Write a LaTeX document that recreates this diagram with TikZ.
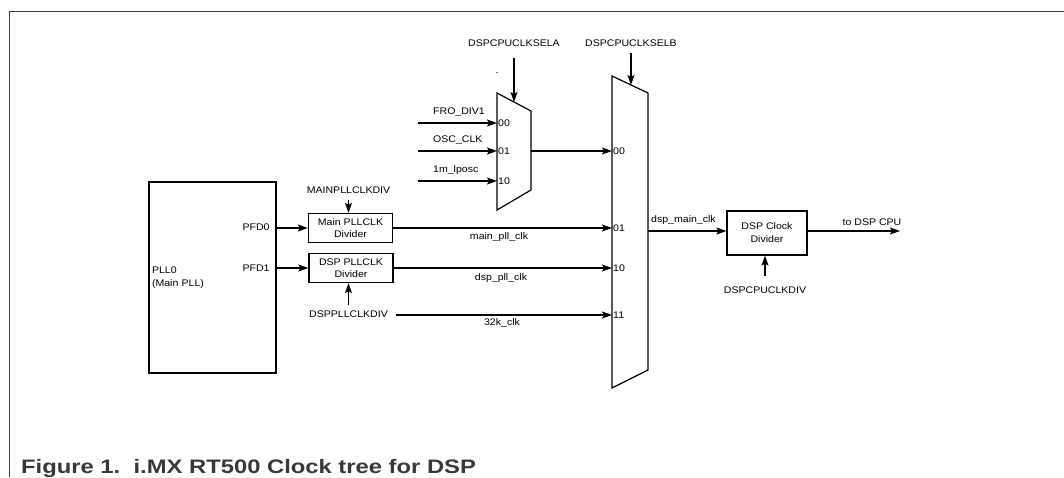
\documentclass[tikz,border=0pt]{standalone}
\usepackage{fontspec}
\setmainfont{Liberation Sans}
\newfontfamily\diagfont[FakeStretch=1.1]{Liberation Sans}
\newfontfamily\capfont[FakeStretch=1.22]{Liberation Sans}
\usetikzlibrary{arrows.meta, positioning}

\begin{document}
\begin{tikzpicture}[
    x=1pt, y=-1pt,
    font=\diagfont\fontsize{9.6}{12.5}\selectfont,
    block/.style={rectangle, draw, line width=1.3pt, align=center, inner sep=1pt},
    arrow/.style={line width=1.2pt, -{Stealth[length=10pt, width=7pt, inset=2pt]}},
    wire/.style={line width=1.2pt, line join=miter},
    lbl/.style={inner sep=1pt, anchor=base},
    port/.style={inner sep=1pt, anchor=west}
]
\useasboundingbox (0,0) rectangle (1064,477);

% frame and caption
\draw[black!75, line width=1pt] (9.5,477) -- (9.5,11.5) -- (1064,11.5);
\node[anchor=base west, inner sep=0pt, text=black!78, font=\capfont\bfseries\fontsize{19.5}{22}\selectfont] (caption) at (21,473) {Figure 1.\ \ i.MX RT500 Clock tree for DSP};

% PLL and the two dividers
\node[block, minimum width=127pt, minimum height=191pt, text width=121pt, align=left, font=\diagfont\fontsize{9.6}{13}\selectfont] (pll) at (212.5,277.5) {PLL0\\(Main PLL)};
\node[lbl] (pfd0) at (256,230) {PFD0};
\node[lbl] (pfd1) at (256,271) {PFD1};
\node[block, minimum width=84pt, minimum height=29pt, font=\diagfont\fontsize{9.6}{12}\selectfont] (mdiv) at (350.5,228) {Main PLLCLK\\Divider};
\node[block, minimum width=84pt, minimum height=29pt, font=\diagfont\fontsize{9.6}{12}\selectfont] (ddiv) at (351,268) {DSP PLLCLK\\Divider};
\node[lbl] (mainlbl) at (348.5,193) {MAINPLLCLKDIV};
\node[lbl] (dsplbl) at (348.5,317) {DSPPLLCLKDIV};

\draw[arrow] (pll.east |- mdiv) -- (mdiv);
\draw[arrow] (pll.east |- ddiv) -- (ddiv);
\draw[arrow, shorten <=6pt] (mainlbl.south) -- (mainlbl.south |- mdiv.north);
\draw[arrow, shorten <=4pt] (dsplbl.north) -- (dsplbl.north |- ddiv.south);

% mux A
\coordinate (ma1) at (497,93);
\coordinate (ma2) at (531,111);
\coordinate (ma3) at (531,190);
\coordinate (ma4) at (497,210);
\draw[wire] (ma1) -- (ma2) -- (ma3) -- (ma4) -- cycle;
\coordinate (sela) at (514,102);
\node[lbl] (selalbl) at (514,46) {DSPCPUCLKSELA};
\node[lbl] (dot) at (497,73) {.};
\draw[arrow, shorten <=11pt] (selalbl.south) -- (sela);

\foreach \y/\sig/\p in {123/FRO\_DIV1/00, 151/OSC\_CLK/01, 181/1m\_lposc/10}{
  \coordinate (src\p) at (418,\y);
  \node[port] (pa\p) at (497,\y) {\p};
  \node[lbl, anchor=base west] (sa\p) at (432,\y-9) {\sig};
  \draw[arrow] (src\p) -- (pa\p.west);
}

% mux B
\coordinate (mb1) at (612,76);
\coordinate (mb2) at (648,93);
\coordinate (mb3) at (648,370);
\coordinate (mb4) at (612,388);
\draw[wire] (mb1) -- (mb2) -- (mb3) -- (mb4) -- cycle;
\coordinate (selb) at (631,85);
\node[lbl] (selblbl) at (631,46) {DSPCPUCLKSELB};
\draw[arrow, shorten <=6pt] (selblbl.south) -- (selb);

\foreach \y/\p in {151/00, 228/01, 268/10, 315/11}
  \node[port] (pb\p) at (612,\y) {\p};

\coordinate (maout) at (531,151);
\coordinate (k32src) at (396,315);
\draw[arrow] (maout) -- (pb00.west);
\draw[arrow] (mdiv.east) -- (pb01.west);
\draw[arrow] (ddiv.east) -- (pb10.west);
\draw[arrow] (k32src) -- (pb11.west);
\node[lbl] (mainpll) at (499,239) {main\_pll\_clk};
\node[lbl] (dsppll) at (501,280) {dsp\_pll\_clk};
\node[lbl] (clk32k) at (502,325) {32k\_clk};

% DSP clock divider
\node[block, minimum width=80pt, minimum height=44pt, font=\diagfont\fontsize{9.6}{13}\selectfont] (cdiv) at (767,233) {DSP Clock\\Divider};
\node[lbl] (cpulbl) at (765,293) {DSPCPUCLKDIV};
\draw[arrow, shorten <=9pt] (cpulbl.north) -- (cpulbl.north |- cdiv.south);

\coordinate (mbout) at (648,231);
\coordinate (cpu) at (900,231);
\draw[arrow] (mbout) -- (mbout -| cdiv.west);
\draw[arrow] (mbout -| cdiv.east) -- (cpu);
\node[lbl, anchor=base west] (mainclk) at (650,222) {dsp\_main\_clk};
\node[lbl] (tocpu) at (872,225) {to DSP CPU};
\end{tikzpicture}
\end{document}
